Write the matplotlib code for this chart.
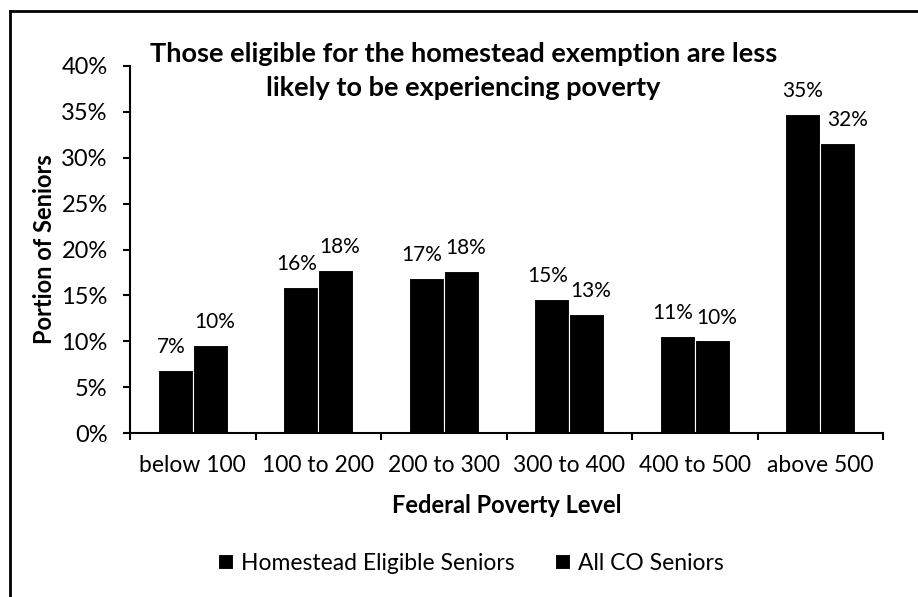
import numpy as np
import matplotlib
matplotlib.use("Agg")
import matplotlib.pyplot as plt
from matplotlib.lines import Line2D
from matplotlib.ticker import PercentFormatter

plt.rcParams['font.family'] = ['Lato', 'DejaVu Sans']

levels = ["below 100", "100 to 200", "200 to 300", "300 to 400", "400 to 500", "above 500"]
homestead = [6.9, 15.9, 16.9, 14.6, 10.6, 34.8]
all_co = [9.6, 17.8, 17.7, 13.0, 10.1, 31.6]
series_names = ["Homestead Eligible Seniors", "All CO Seniors"]

fig = plt.figure(figsize=(9.18, 5.97), dpi=100)
ax = fig.add_axes([130 / 918, 1 - 433 / 597, 753 / 918, 367 / 597])

x = np.arange(len(levels))
w = 0.28
b1 = ax.bar(x - w / 2, homestead, w, color="black", edgecolor="white", linewidth=0.8,
            label=series_names[0])
b2 = ax.bar(x + w / 2, all_co, w, color="black", edgecolor="white", linewidth=0.8,
            label=series_names[1])

# value labels; spread a pair apart when the two bars are close in height,
# push the second label right when it would run into the taller first bar
for i in range(len(levels)):
    d1 = d2 = 0
    if abs(homestead[i] - all_co[i]) < 3:
        d1, d2 = -3, 3
    if homestead[i] > all_co[i] + 1.8:
        d2 = 7
    for r, v, dx in ((b1[i], homestead[i], d1), (b2[i], all_co[i], d2)):
        ax.annotate(f"{v:.0f}%", (r.get_x() + r.get_width() / 2, v),
                    xytext=(dx, 12), textcoords="offset points",
                    ha="center", va="baseline", fontsize=15)

ax.set_xlim(-0.5, len(levels) - 0.5)
ax.set_ylim(0, 40)
ax.set_yticks(np.arange(0, 41, 5))
ax.yaxis.set_major_formatter(PercentFormatter(decimals=0))
ax.set_xticks(x)
ax.set_xticklabels(levels)
ax.set_xticks(np.arange(-0.5, len(levels), 1), minor=True)
ax.tick_params(axis="x", which="major", length=0, pad=16, labelsize=16.5)
ax.tick_params(axis="x", which="minor", length=5, width=1.5, direction="out")
ax.tick_params(axis="y", length=5, width=1.5, labelsize=17, pad=11)

for s in ("top", "right"):
    ax.spines[s].set_visible(False)
for s in ("left", "bottom"):
    ax.spines[s].set_linewidth(1.5)

ax.set_ylabel("Portion of Seniors", fontsize=17, fontweight="bold", labelpad=4)
ax.set_xlabel("Federal Poverty Level", fontsize=17, fontweight="bold", labelpad=13)

fig.text(0.505, 1 - 71 / 597, "Those eligible for the homestead exemption are less\n"
         "likely to be experiencing poverty", ha="center", va="center",
         fontsize=19.5, fontweight="bold", linespacing=1.5)

fig.legend(handles=[b1, b2], labels=series_names, loc="center",
           bbox_to_anchor=(0.513, 1 - 563 / 597), ncol=2, frameon=False,
           fontsize=16.5, handlelength=0.62, handleheight=0.62, handletextpad=0.35,
           columnspacing=1.8)

# outer border of the chart area
fig.add_artist(Line2D([10 / 918, 10 / 918], [0, 1 - 11 / 597],
                      transform=fig.transFigure, color="black", linewidth=2))
fig.add_artist(Line2D([10 / 918, 1], [1 - 11 / 597, 1 - 11 / 597],
                      transform=fig.transFigure, color="black", linewidth=2))

fig.savefig("out.png", dpi=100)
